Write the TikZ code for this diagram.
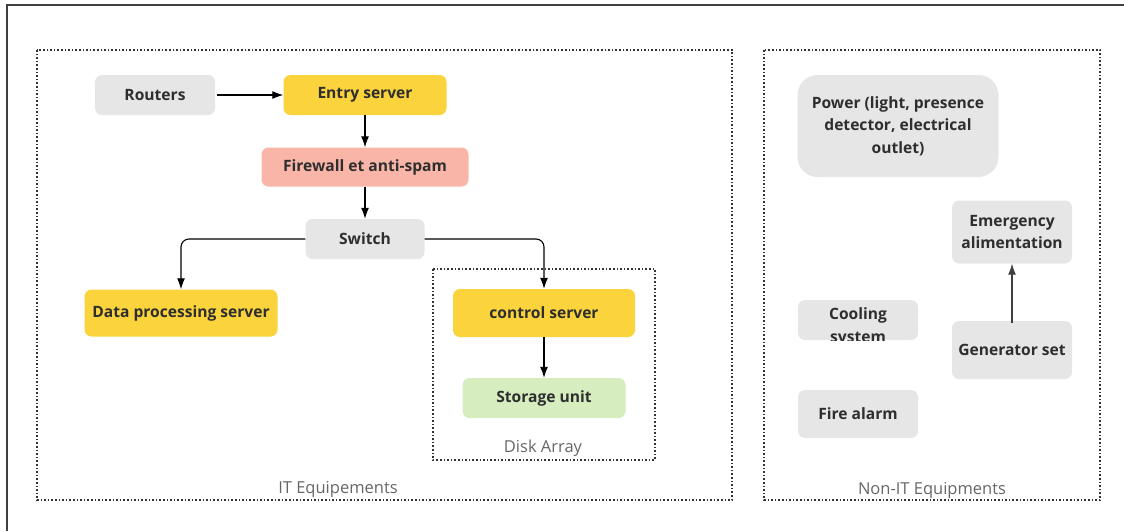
\documentclass[tikz,border=0pt]{standalone}
\usepackage{fontspec}
\setmainfont{Open Sans}
\usetikzlibrary{arrows.meta}
\usepackage{xcolor}
\definecolor{boxgray}{HTML}{E6E6E6}
\definecolor{boxyellow}{HTML}{FAD33D}
\definecolor{boxsalmon}{HTML}{F8B5A8}
\definecolor{boxgreen}{HTML}{D5EDBF}
\definecolor{txtdark}{HTML}{2E2E2E}
\definecolor{txtgray}{HTML}{666666}

\begin{document}
\begin{tikzpicture}[x=1pt,y=-1pt]

    \tikzset{block/.style = {rounded corners=7pt, text=txtdark, align=center,
        font=\fontsize{15.6}{22.5}\selectfont\bfseries, inner sep=0pt}}
    \tikzset{area/.style = {draw=black!80, line width=1.6pt, dotted}}
    \tikzset{arealabel/.style = {text=txtgray, font=\fontsize{16.5}{18}\selectfont}}
    \tikzset{edge/.style = {-{Latex[length=11pt,width=8pt]}, line width=1.1pt}}
    \useasboundingbox (0,0) rectangle (1124,531);
    % outer frame
    \draw[line width=2pt, black!75] (7,531) -- (7,5) -- (1124,5);
    % areas
    \draw[area] (37,50) rectangle (732,500);
    \draw[area] (764,50) rectangle (1100,500);
    \draw[area] (433,269) rectangle (655,460);
    \node[arealabel] (itlab) at (338,489) {IT Equipements};
    \node[arealabel] (nitlab) at (932,490) {Non-IT Equipments};
    \node[arealabel] (disklab) at (543,448) {Disk Array};
    % IT nodes
    \node[block, fill=boxgray, minimum width=120, minimum height=40] (R) at (155,95) {Routers};
    \node[block, fill=boxyellow, minimum width=163, minimum height=40] (E) at (365,95) {Entry server};
    \node[block, fill=boxsalmon, minimum width=207, minimum height=39] (F) at (365,167) {Firewall et anti-spam};
    \node[block, fill=boxgray, minimum width=119, minimum height=40] (S) at (365,239) {Switch};
    \node[block, fill=boxyellow, minimum width=193, minimum height=47] (D) at (181,313) {Data processing server};
    \node[block, fill=boxyellow, minimum width=182, minimum height=48] (C) at (544,313) {control server};
    \node[block, fill=boxgreen, minimum width=163, minimum height=40] (U) at (544,398) {Storage unit};
    % Non-IT nodes
    \node[block, fill=boxgray, rounded corners=20pt, minimum width=201, minimum height=102] (P) at (898,126)
        {Power (light, presence\\detector, electrical\\outlet)};
    \node[block, fill=boxgray, minimum width=120, minimum height=63] (M) at (1012,232) {Emergency\\alimentation};
    \node[block, fill=boxgray, minimum width=120, minimum height=40] (K) at (858,320) {};
    \begin{scope}
        \clip (K.south west) rectangle (K.north east);
        \node[block] (Ktext) at (858,327) {Cooling\\system};
    \end{scope}
    \node[block, fill=boxgray, minimum width=120, minimum height=58] (G) at (1012,350) {Generator set};
    \node[block, fill=boxgray, minimum width=120, minimum height=48] (A) at (858,414) {Fire alarm};
    %edges
    \draw[edge] ([xshift=2pt]R.east) to (E.west);
    \draw[edge] (E) to (F);
    \draw[edge] (F) to (S);
    \draw[edge, rounded corners=8pt] (S.west) -| (D.north);
    \draw[edge, rounded corners=8pt] (S.east) -| (C.north);
    \draw[edge] (C) to (U);
    \draw[edge, black!75] ([yshift=-2pt]G.north) to (M.south);
\end{tikzpicture}
\end{document}
